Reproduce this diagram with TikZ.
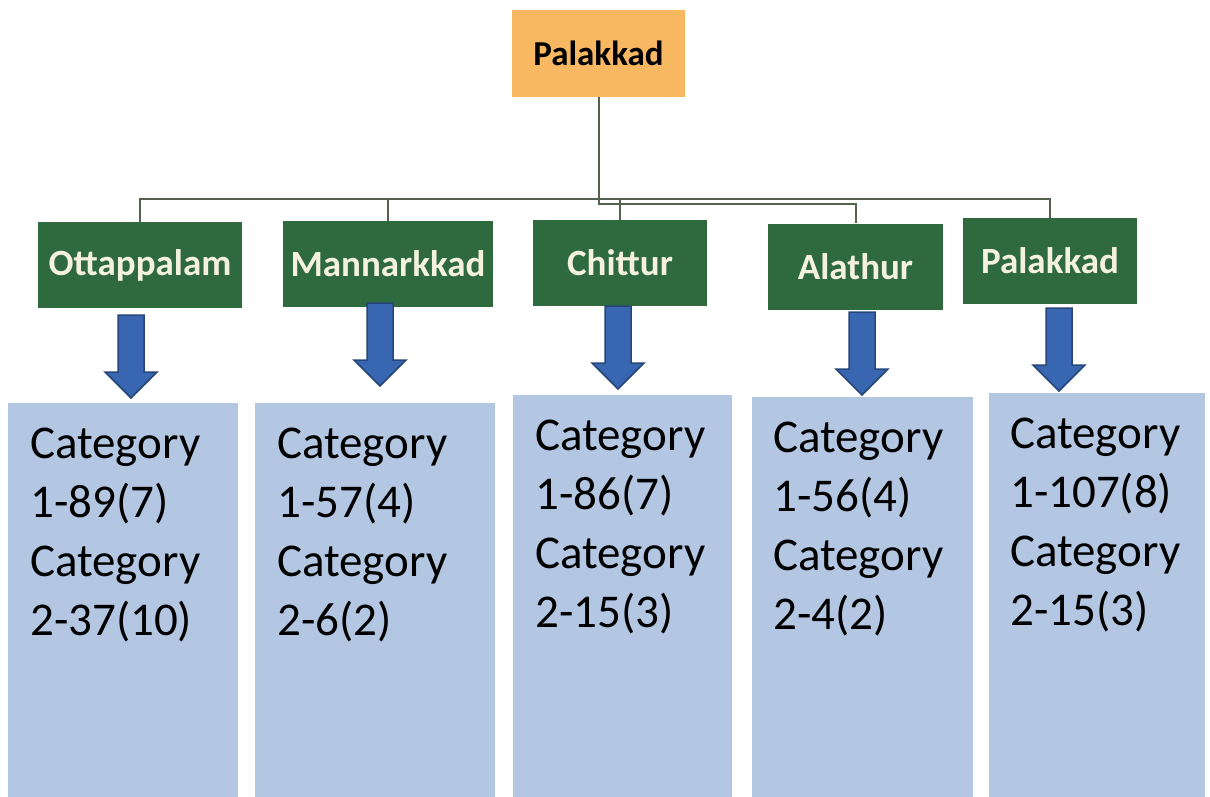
\documentclass[tikz,border=0pt]{standalone}
\usepackage{fontspec}
\setmainfont{Carlito}
\usetikzlibrary{positioning}
\definecolor{topfill}{HTML}{F8B862}
\definecolor{talukfill}{HTML}{2E6A3E}
\definecolor{taluktext}{HTML}{F4F2DC}
\definecolor{catfill}{HTML}{B3C7E3}
\definecolor{linkcol}{HTML}{56604F}
\definecolor{arrowfill}{HTML}{3866B0}
\definecolor{arrowline}{HTML}{26467A}
\tikzset{
  topbox/.style={fill=topfill, minimum width=173pt, minimum height=87pt,
    inner sep=0pt, font=\fontsize{35}{42}\selectfont\bfseries},
  taluk/.style={fill=talukfill, text=taluktext, minimum height=86pt,
    inner sep=0pt, font=\fontsize{37}{44}\selectfont\bfseries},
  catbox/.style={fill=catfill, anchor=north west, inner sep=0pt},
  cattext/.style={anchor=base west, align=left, text width=200pt,
    inner sep=0pt, font=\fontsize{47}{59}\selectfont},
  link/.style={draw=linkcol, line width=2pt},
  bluearrow/.pic={
    \draw[fill=arrowfill, draw=arrowline, line width=1.5pt]
      (-13,0) -- (13,0) -- (13,57) -- (26,57) -- (0,83) -- (-26,57) -- (-13,57) -- cycle;
  }
}

\begin{document}
\begin{tikzpicture}[x=1pt, y=-1pt]
\useasboundingbox (0,0) rectangle (1210,797);

%% district
\node[topbox] (top) at (598.5,53.5) {Palakkad};

%% taluks
\node[taluk, minimum width=204pt] (g1) at (140,265) {Ottappalam};
\node[taluk, minimum width=210pt] (g2) at (388,264) {Mannarkkad};
\node[taluk, minimum width=174pt] (g3) at (620,263) {Chittur};
\node[taluk, minimum width=175pt] (g4) at (855.5,266.5) {Alathur};
\node[taluk, minimum width=174pt] (g5) at (1050,261) {Palakkad};

%% connectors
\coordinate (bus) at (598.5,199);
\coordinate (bus2) at (598.5,204);

\draw[link] (top.south) -- (bus) -| (g1.north);
\draw[link] (top.south) -- (bus) -| (g2.north);
\draw[link] (top.south) -- (bus) -| (g3.north);
\draw[link] (top.south) -- (bus2) -| (g4.north);
\draw[link] (top.south) -- (bus) -| (g5.north);

%% block arrows
\pic (a1) at (131,315) {bluearrow};
\pic (a2) at (380,303) {bluearrow};
\pic (a3) at (618,306) {bluearrow};
\pic (a4) at (862,312) {bluearrow};
\pic (a5) at (1059,308) {bluearrow};

%% categories
\node[catbox, minimum width=230pt, minimum height=394pt] (b1) at (8,403) {};
\node[catbox, minimum width=240pt, minimum height=394pt] (b2) at (255,403) {};
\node[catbox, minimum width=219pt, minimum height=402pt] (b3) at (513,395) {};
\node[catbox, minimum width=221pt, minimum height=400pt] (b4) at (752,397) {};
\node[catbox, minimum width=216pt, minimum height=404pt] (b5) at (989,393) {};

\node[cattext] (t1) at ([xshift=22pt,yshift=-55pt]b1.north west) {Category\\1-89(7)\\Category\\2-37(10)};
\node[cattext] (t2) at ([xshift=22pt,yshift=-55pt]b2.north west) {Category\\1-57(4)\\Category\\2-6(2)};
\node[cattext] (t3) at ([xshift=22pt,yshift=-55pt]b3.north west) {Category\\1-86(7)\\Category\\2-15(3)};
\node[cattext] (t4) at ([xshift=21pt,yshift=-55pt]b4.north west) {Category\\1-56(4)\\Category\\2-4(2)};
\node[cattext] (t5) at ([xshift=21pt,yshift=-55pt]b5.north west) {Category\\1-107(8)\\Category\\2-15(3)};

\end{tikzpicture}
\end{document}
